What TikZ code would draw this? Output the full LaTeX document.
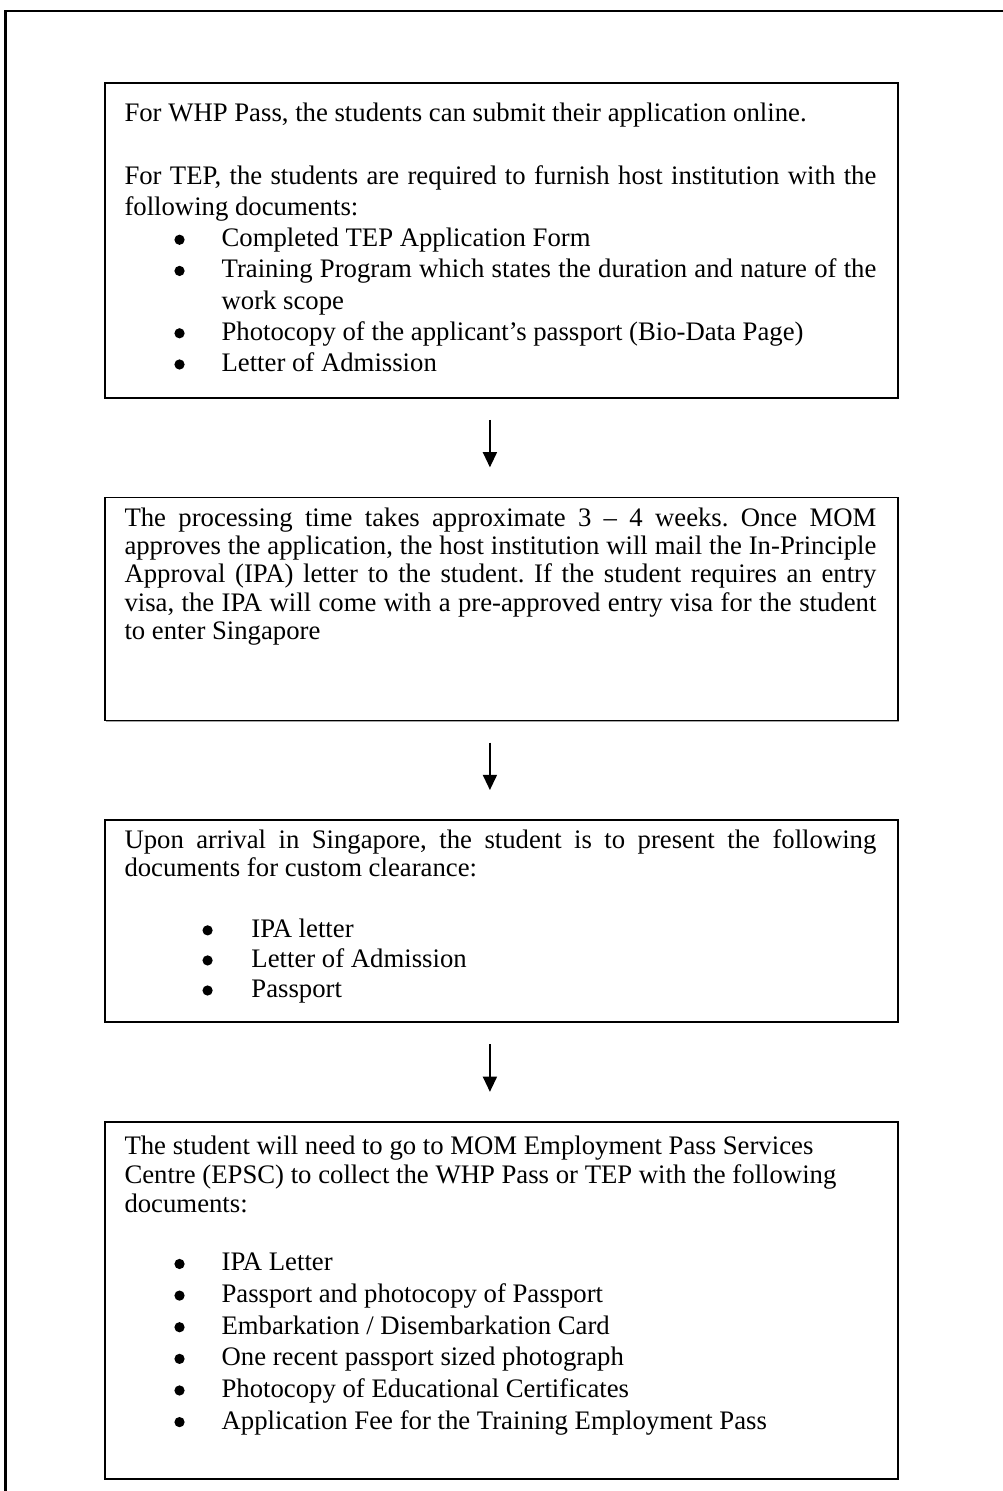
\documentclass[tikz,border=0pt]{standalone}
\usepackage{fontspec}
\setmainfont{Liberation Serif}
\usepackage{enumitem}
\usetikzlibrary{arrows.meta,positioning,shadows}

\frenchspacing
\newcommand{\stepbullet}{\tikz[baseline=-3.1pt]\fill (0,0) circle (2.3pt);}
\setlist[itemize]{label=\stepbullet, topsep=0pt, partopsep=0pt, parsep=0pt, itemsep=0pt, align=left, labelwidth=4.6pt}

\tikzset{
  stepbox/.style={draw, line width=0.8pt, fill=white, minimum width=356.1pt, inner sep=0pt,
    drop shadow={shadow xshift=0.5pt, shadow yshift=-0.5pt, fill=black!35, opacity=1}},
  steptext/.style={anchor=north west, inner sep=0pt, text width=337.6pt, align=justify},
  flowarrow/.style={line width=0.7pt, -{Triangle[length=6.8pt,width=6.3pt]},
    shorten <=9.5pt, shorten >=13.2pt},
}

\begin{document}
\begin{tikzpicture}[x=0.449pt, y=-0.449pt, node distance=44pt]
  \useasboundingbox (0,0) rectangle (1003,1491);

  % outer frame
  \coordinate (frameNE) at (1010,11);
  \coordinate (frameSW) at (5.5,1500);
  \draw[line width=0.9pt] (frameNE) -| (frameSW);

  % step boxes
  \node[stepbox, minimum height=141.4pt, anchor=north] (b1) at (501.5,82) {};
  \node[stepbox, minimum height=100.1pt, below=of b1] (b2) {};
  \node[stepbox, minimum height=90.7pt, below=of b2] (b3) {};
  \node[stepbox, minimum height=160.3pt, below=of b3] (b4) {};

  % texts
  \node[steptext, font=\fontsize{12}{14}\selectfont] (t1) at ([shift={(20,20.5)}]b1.north west) {%
    For WHP Pass, the students can submit their application online.\par
    \vspace{14.2pt}
    For TEP, the students are required to furnish host institution with the\linebreak
    following documents:
    \begin{itemize}[leftmargin=43.6pt, labelsep=16.6pt]
      \item Completed TEP Application Form
      \item Training Program which states the duration and nature of the work scope
      \item Photocopy of the applicant’s passport (Bio-Data Page)
      \item Letter of Admission
    \end{itemize}};

  \node[steptext, font=\fontsize{12}{12.7}\selectfont] (t2) at ([shift={(20,10.5)}]b2.north west) {%
    The processing time takes approximate 3 – 4 weeks. Once MOM\linebreak
    approves the application, the host institution will mail the In-Principle\linebreak
    Approval (IPA) letter to the student. If the student requires an entry\linebreak
    visa, the IPA will come with a pre-approved entry visa for the student\linebreak
    to enter Singapore};

  \node[steptext, font=\fontsize{12}{12.6}\selectfont] (t3) at ([shift={(20,9.5)}]b3.north west) {%
    Upon arrival in Singapore, the student is to present the following\linebreak
    documents for custom clearance:\par
    \vspace{14.8pt}
    \begin{itemize}[leftmargin=57pt, labelsep=17.4pt, itemsep=0.9pt]
      \item IPA letter
      \item Letter of Admission
      \item Passport
    \end{itemize}};

  \node[steptext, font=\fontsize{12}{13.2}\selectfont] (t4) at ([shift={(20,14)}]b4.north west) {%
    The student will need to go to MOM Employment Pass Services\\
    Centre (EPSC) to collect the WHP Pass or TEP with the following\\
    documents:\par
    \vspace{12.8pt}
    \begin{itemize}[leftmargin=43.6pt, labelsep=16.6pt, itemsep=1pt]
      \item IPA Letter
      \item Passport and photocopy of Passport
      \item Embarkation / Disembarkation Card
      \item One recent passport sized photograph
      \item Photocopy of Educational Certificates
      \item Application Fee for the Training Employment Pass
    \end{itemize}};

  % arrows
  \draw[flowarrow] ([xshift=-5.2pt]b1.south) -- ([xshift=-5.2pt]b2.north);
  \draw[flowarrow] ([xshift=-5.2pt]b2.south) -- ([xshift=-5.2pt]b3.north);
  \draw[flowarrow] ([xshift=-5.2pt]b3.south) -- ([xshift=-5.2pt]b4.north);
\end{tikzpicture}
\end{document}
